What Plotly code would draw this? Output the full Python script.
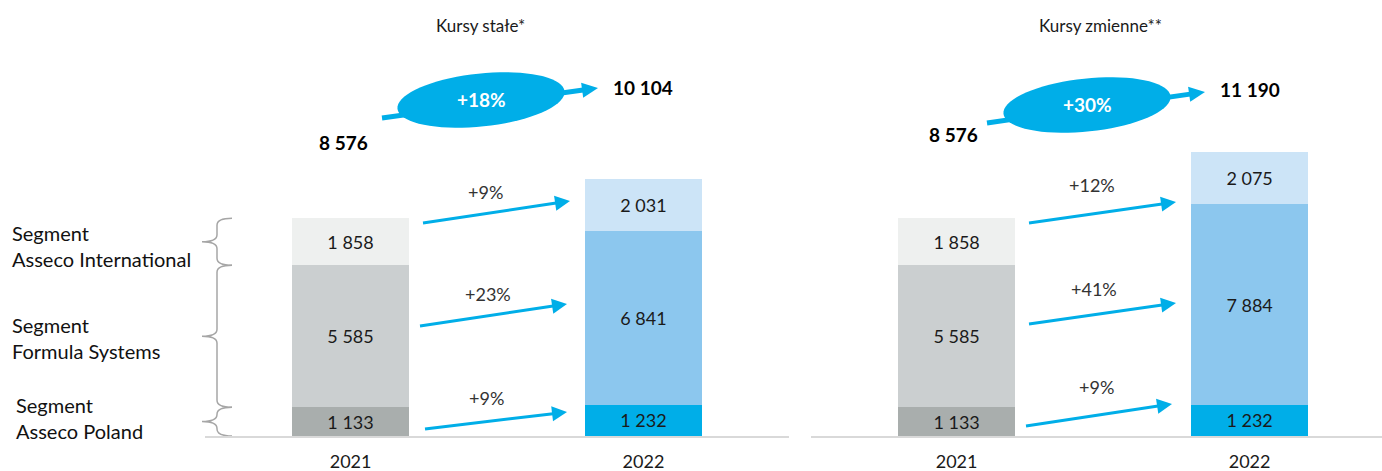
import math
import plotly.graph_objects as go

# ---------------- data ----------------
years = ["2021", "2022"]
segments = ["Asseco Poland", "Formula Systems", "Asseco International"]
const_poland = [1133, 1232]
const_formula = [5585, 6841]
const_international = [1858, 2031]
var_poland = [1133, 1232]
var_formula = [5585, 7884]
var_international = [1858, 2075]
const_growth = ["+9%", "+23%", "+9%"]          # Poland, Formula, International
var_growth = ["+9%", "+41%", "+12%"]
const_totals = ["8 576", "10 104"]
var_totals = ["8 576", "11 190"]
const_total_growth = "+18%"
var_total_growth = "+30%"
panel_titles = ["Kursy stałe*", "Kursy zmienne**"]
segment_labels = ["Segment<br>Asseco International", "Segment<br>Formula Systems", "Segment<br>Asseco Poland"]

# ---------------- style ----------------
W, H = 1382, 471
FONT = "Lato"
BLUE = "#00AEE8"
colors_2021 = ["#A9AEAD", "#CBCFD0", "#EEF0EF"]
colors_2022 = ["#00AEE8", "#8CC7EE", "#CCE4F7"]
PX_PER_UNIT = 0.0254
BASE_PX = 436
YMAX = BASE_PX / PX_PER_UNIT


def X(px):
    return px / W


def Y(py):
    return 1 - py / H


def fmt(v):
    return f"{v:,}".replace(",", " ")


fig = go.Figure()

panels = [
    ("x", [const_poland, const_formula, const_international]),
    ("x2", [var_poland, var_formula, var_international]),
]
for xa, series in panels:
    for i, vals in enumerate(series):
        fig.add_trace(go.Bar(
            x=years, y=vals, xaxis=xa, yaxis="y",
            name=segments[i], width=0.4,
            marker=dict(color=[colors_2021[i], colors_2022[i]], line=dict(width=0)),
            text=[fmt(v) for v in vals], textposition="inside",
            insidetextanchor="middle", constraintext="none",
            textfont=dict(family=FONT, size=18, color="#1a1a1a"),
            showlegend=False, hoverinfo="skip",
        ))

shapes = []
annotations = []


def arrow(x0, y0, x1, y1, lw, hl, hw):
    ang = math.atan2(y1 - y0, x1 - x0)
    bx, by = x1 - hl * math.cos(ang), y1 - hl * math.sin(ang)
    shapes.append(dict(type="line", xref="paper", yref="paper",
                       x0=X(x0), y0=Y(y0), x1=X(bx + 1 * math.cos(ang)), y1=Y(by + 1 * math.sin(ang)),
                       line=dict(color=BLUE, width=lw)))
    nx, ny = -math.sin(ang), math.cos(ang)
    p1 = (bx + nx * hw / 2, by + ny * hw / 2)
    p2 = (bx - nx * hw / 2, by - ny * hw / 2)
    path = f"M {X(x1)},{Y(y1)} L {X(p1[0])},{Y(p1[1])} L {X(p2[0])},{Y(p2[1])} Z"
    shapes.append(dict(type="path", xref="paper", yref="paper", path=path,
                       fillcolor=BLUE, line=dict(width=0)))


def ellipse(cx, cy, a, b, deg):
    phi = math.radians(deg)
    pts = []
    for k in range(73):
        t = 2 * math.pi * k / 72
        ex = cx + a * math.cos(t) * math.cos(phi) - b * math.sin(t) * math.sin(phi)
        ey = cy + a * math.cos(t) * math.sin(phi) + b * math.sin(t) * math.cos(phi)
        pts.append(f"{X(ex):.5f},{Y(ey):.5f}")
    path = "M " + " L ".join(pts) + " Z"
    shapes.append(dict(type="path", xref="paper", yref="paper", path=path,
                       fillcolor=BLUE, line=dict(width=0)))


def text(x, y, s, size=18, color="#1a1a1a", bold=False, xanchor="center", align="center"):
    annotations.append(dict(x=X(x), y=Y(y), xref="paper", yref="paper", text=(f"<b>{s}</b>" if bold else s),
                            showarrow=False, xanchor=xanchor, yanchor="middle", align=align,
                            font=dict(family=FONT, size=size, color=color)))


# segment growth arrows (bottom, middle, top)
left_arrows = [((425, 429), (567, 412), (487, 398)),
               ((420, 326), (567, 304), (488, 294)),
               ((423, 223), (570, 201), (485, 192))]
right_arrows = [((1026, 426), (1172, 404), (1096, 387)),
                ((1029, 324), (1176, 303), (1094, 289)),
                ((1029, 223), (1176, 202), (1092, 185))]
for arrs, labels in ((left_arrows, const_growth), (right_arrows, var_growth)):
    for (p0, p1, lp), lab in zip(arrs, labels):
        arrow(p0[0], p0[1], p1[0], p1[1], 3, 15, 15)
        text(lp[0], lp[1], lab, size=18, color="#333333")

# total growth arrows + ellipses
tops = [
    dict(title=(480, 26), t0=(343, 143), t1=(643, 88), ell=(481, 100), a0=(382, 118), a1=(598, 88),
         totals=const_totals, g=const_total_growth, tt=panel_titles[0]),
    dict(title=(1100, 26), t0=(953, 135), t1=(1250, 90), ell=(1087, 105), a0=(987, 123), a1=(1205, 92),
         totals=var_totals, g=var_total_growth, tt=panel_titles[1]),
]
for t in tops:
    arrow(t["a0"][0], t["a0"][1], t["a1"][0], t["a1"][1], 5, 16, 15)
    ellipse(t["ell"][0], t["ell"][1], 84, 26.5, -6)
    text(t["ell"][0], t["ell"][1], t["g"], size=19, color="white", bold=True)
    text(t["title"][0], t["title"][1], t["tt"], size=17, color="#1a1a1a")
    text(t["t0"][0], t["t0"][1], t["totals"][0], size=19, color="#000000", bold=True)
    text(t["t1"][0], t["t1"][1], t["totals"][1], size=19, color="#000000", bold=True)

# curly brackets following the 2021 stack (data-driven y)
cum = [0]
for v in (const_poland[0], const_formula[0], const_international[0]):
    cum.append(cum[-1] + v)
xt, xs, xp = X(232), X(217), X(202)
for i in range(3):
    y1, y0 = cum[i], cum[i + 1]
    ym = (y0 + y1) / 2
    span_px = (y0 - y1) * PX_PER_UNIT
    r = min(7, span_px / 4) / PX_PER_UNIT
    path = (f"M {xt},{y0} Q {xs},{y0} {xs},{y0 - r} L {xs},{ym + r} Q {xs},{ym} {xp},{ym} "
            f"Q {xs},{ym} {xs},{ym - r} L {xs},{y1 + r} Q {xs},{y1} {xt},{y1}")
    shapes.append(dict(type="path", xref="paper", yref="y", path=path,
                       line=dict(color="#A6A6A6", width=1.5)))

# segment names
for (lx, ly), s in zip([(10, 246), (10, 338), (14, 418)], segment_labels):
    text(lx, ly, s, size=20, color="#111111", xanchor="left", align="left")

axis_common = dict(type="category", showline=True, linecolor="#D9D9D9", linewidth=2,
                   showgrid=False, zeroline=False, ticks="", ticklabelstandoff=8, automargin=False,
                   tickfont=dict(family=FONT, size=18, color="#1a1a1a"), fixedrange=True)

fig.update_layout(
    width=W, height=H, margin=dict(l=0, r=0, t=0, b=0, autoexpand=False),
    paper_bgcolor="white", plot_bgcolor="white",
    barmode="stack", bargap=0.6,
    font=dict(family=FONT),
    xaxis=dict(domain=[205 / W, 789 / W], range=[-0.497, 1.497], anchor="y", **axis_common),
    xaxis2=dict(domain=[811 / W, 1.0], range=[-0.497, 1.452], anchor="y", **axis_common),
    yaxis=dict(domain=[(H - BASE_PX) / H, 1.0], range=[0, YMAX], visible=False, fixedrange=True,
               automargin=False),
    shapes=shapes, annotations=annotations,
)

fig.write_html("out.html", config={"displayModeBar": False},
               post_script="document.body.style.margin='0';document.body.style.overflow='hidden';")
